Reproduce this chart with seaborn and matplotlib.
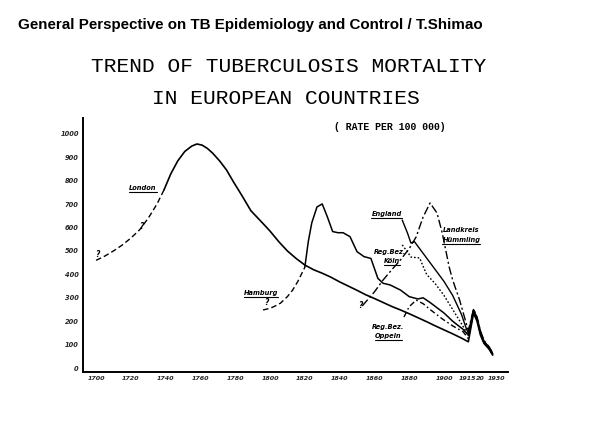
import matplotlib
matplotlib.use("Agg")
import matplotlib.pyplot as plt
import seaborn as sns
import pandas as pd
from matplotlib.lines import Line2D
from matplotlib.transforms import ScaledTranslation

# ---------------- data ----------------
london_early_years = [1700, 1705, 1710, 1715, 1720, 1725, 1730, 1735, 1739]
london_early_rate = [460, 478, 500, 525, 555, 590, 640, 700, 760]
london_years = [1739, 1743, 1747, 1751, 1755, 1758, 1761, 1764, 1767, 1771, 1775, 1779,
                1784, 1789, 1795, 1800, 1805, 1810, 1815, 1820, 1825, 1830, 1835, 1840,
                1845, 1850, 1855, 1860, 1865, 1870, 1875, 1880, 1885, 1890, 1895, 1900,
                1905, 1910, 1914, 1917, 1919, 1921, 1923, 1926, 1928]
london_rate = [760, 830, 885, 925, 948, 957, 952, 938, 918, 885, 846, 795,
               735, 672, 625, 585, 540, 500, 468, 440, 420, 405, 388, 368,
               350, 332, 313, 297, 280, 263, 248, 232, 215, 198, 180, 163,
               146, 128, 112, 235, 200, 140, 105, 80, 55]

hamburg_early_years = [1796, 1800, 1803, 1806, 1810, 1813, 1816, 1820]
hamburg_early_rate = [248, 255, 265, 277, 305, 333, 370, 430]
hamburg_years = [1820, 1822, 1824, 1827, 1830, 1833, 1836, 1839, 1842, 1846, 1850, 1854,
                 1858, 1862, 1865, 1869, 1875, 1880, 1885, 1888, 1892, 1900, 1905, 1911,
                 1914, 1917, 1919, 1921, 1923, 1926, 1928]
hamburg_rate = [430, 540, 620, 688, 701, 645, 583, 578, 578, 561, 497, 476,
                468, 383, 362, 355, 333, 305, 295, 300, 280, 235, 200, 165,
                140, 245, 210, 150, 112, 86, 60]

england_years = [1876, 1879, 1881, 1883, 1886, 1890, 1895, 1900, 1905, 1910, 1913,
                 1914, 1917, 1919, 1921, 1923, 1926, 1928]
england_rate = [632, 577, 534, 540, 510, 470, 420, 370, 310, 230, 165,
                150, 250, 215, 155, 115, 88, 62]

koeln_years = [1876, 1879, 1881, 1886, 1890, 1895, 1900, 1905, 1910, 1914,
               1917, 1919, 1921, 1923, 1926, 1928]
koeln_rate = [526, 496, 474, 470, 400, 360, 310, 250, 190, 140,
              242, 208, 148, 110, 84, 58]

huemmling_years = [1853, 1860, 1865, 1870, 1875, 1880, 1884, 1888, 1892, 1896, 1899,
                   1903, 1905, 1909, 1913, 1914, 1917, 1919, 1921, 1923, 1926, 1928]
huemmling_rate = [265, 325, 376, 420, 462, 510, 560, 645, 705, 662, 577,
                  431, 376, 290, 185, 160, 252, 218, 158, 118, 90, 64]

oppeln_years = [1877, 1880, 1884, 1888, 1892, 1899, 1905, 1911, 1914,
                1917, 1919, 1921, 1923, 1926, 1928]
oppeln_rate = [218, 262, 290, 275, 250, 210, 180, 155, 125,
               238, 204, 144, 108, 82, 56]

x_ticks = [1700, 1720, 1740, 1760, 1780, 1800, 1820, 1840, 1860, 1880, 1900, 1915, 1920, 1930]
x_tick_labels = ["1700", "1720", "1740", "1760", "1780", "1800", "1820", "1840",
                 "1860", "1880", "1900", "1915", "20", "1930"]
y_ticks = [0, 100, 200, 300, 400, 500, 600, 700, 800, 900, 1000]
y_tick_labels = ["0", "100", "200", "300", "400", "500", "600", "700", "800", "900", "1000"]

# ---------------- figure ----------------
sns.set_theme(style="white")
plt.rcParams["font.family"] = ["DejaVu Sans"]

W, H = 600, 423
fig = plt.figure(figsize=(6.0, 4.23), dpi=100)
fig.patch.set_facecolor("white")
ax = fig.add_axes([83 / W, 1 - 372 / H, (508 - 83) / W, (372 - 118) / H])
ax.set_facecolor("white")

segments = [
    (london_early_years, london_early_rate, (4, 2.2), 1.0),
    (london_years, london_rate, None, 1.2),
    (hamburg_early_years, hamburg_early_rate, (4, 2.2), 1.0),
    (hamburg_years, hamburg_rate, None, 1.1),
    (england_years, england_rate, None, 1.0),
    (koeln_years, koeln_rate, (1.2, 1.4), 1.0),
    (huemmling_years, huemmling_rate, (6, 2, 1.5, 2), 1.0),
    (oppeln_years, oppeln_rate, (4, 2, 1.2, 2), 1.0),
]
for yrs, vals, dash, lw in segments:
    df = pd.DataFrame({"year": yrs, "rate": vals})
    line_ax = sns.lineplot(data=df, x="year", y="rate", ax=ax, color="black",
                           linewidth=lw, estimator=None, sort=False)
    ln = line_ax.get_lines()[-1]
    if dash is not None:
        ln.set_dashes(dash)

ax.set_xlim(1692.5, 1936.8)
ax.set_ylim(-17, 1068)
ax.set_xlabel("")
ax.set_ylabel("")
for s in ["top", "right"]:
    ax.spines[s].set_visible(False)
for s in ["left", "bottom"]:
    ax.spines[s].set_color("black")
    ax.spines[s].set_linewidth(1.4)

ax.set_xticks(x_ticks)
ax.set_xticklabels(x_tick_labels, fontsize=4.6, fontstyle="italic", fontweight="bold")
ax.set_yticks(y_ticks)
ax.set_yticklabels(y_tick_labels, fontsize=4.8, fontstyle="italic", fontweight="bold")
ax.tick_params(axis="x", direction="in", length=7, width=1.3, color="black", pad=3)
ax.tick_params(axis="y", direction="in", length=0, pad=3)
ax.grid(False)
# nudge the crowded "1915" / "20" labels apart as in the reference
xtl = ax.get_xticklabels()
xtl[11].set_transform(xtl[11].get_transform() + ScaledTranslation(-3 / 100, 0, fig.dpi_scale_trans))
xtl[12].set_transform(xtl[12].get_transform() + ScaledTranslation(2 / 100, 0, fig.dpi_scale_trans))

# ---------------- series labels ----------------
lab_kw = dict(fontsize=4.8, fontstyle="italic", fontweight="bold", ha="center",
              va="center", color="black")
labels = [
    (1727, 769, "London", True),
    (1794.8, 320, "Hamburg", True),
    (1867, 658, "England", True),
    (1869, 496, "Reg.Bez.", False),
    (1870, 457, "Köln", True),
    (1910, 590, "Landkreis", False),
    (1910, 547, "Hümmling", True),
    (1868, 175, "Reg.Bez.", False),
    (1868, 137, "Oppeln", True),
]
label_texts = []
for x, y, s, ul in labels:
    t = ax.text(x, y, s, **lab_kw)
    label_texts.append((t, ul))

for x, y in [(1701, 487), (1726, 603), (1797.7, 278), (1852, 269)]:
    ax.text(x, y, "?", fontsize=5.5, fontstyle="italic", fontweight="bold",
            ha="center", va="center", color="black")

# ---------------- titles ----------------
t1 = fig.text(18 / W, 1 - 25 / H, "General Perspective on TB Epidemiology and Control / T.Shimao",
              family=["Liberation Sans", "DejaVu Sans"], fontweight="bold", fontsize=11,
              ha="left", va="center", color="black")
t2 = fig.text(289 / W, 1 - 66 / H, "TREND OF TUBERCULOSIS MORTALITY",
              family=["Liberation Mono", "DejaVu Sans Mono"], fontsize=13,
              ha="center", va="center", color="black")
t3 = fig.text(286 / W, 1 - 98 / H, "IN EUROPEAN COUNTRIES",
              family=["Liberation Mono", "DejaVu Sans Mono"], fontsize=13,
              ha="center", va="center", color="black")
t4 = fig.text(390 / W, 1 - 127 / H, "( RATE PER 100 000)",
              family=["Liberation Mono", "DejaVu Sans Mono"], fontweight="bold", fontsize=7,
              ha="center", va="center", color="black")

fig.canvas.draw()
renderer = fig.canvas.get_renderer()


def fit(t, target):
    w = t.get_window_extent(renderer).width
    t.set_fontsize(t.get_fontsize() * target / w)


fit(t1, 465)
fit(t2, 392)
t3.set_fontsize(t2.get_fontsize())
fit(t4, 114)

fig.canvas.draw()
for t, ul in label_texts:
    if ul:
        bb = t.get_window_extent(renderer)
        yb = bb.y0 - 0.8
        fig.add_artist(Line2D([bb.x0 / W, bb.x1 / W], [yb / H, yb / H],
                              transform=fig.transFigure, color="black", linewidth=0.8))

fig.savefig("out.png", dpi=100, facecolor="white")
